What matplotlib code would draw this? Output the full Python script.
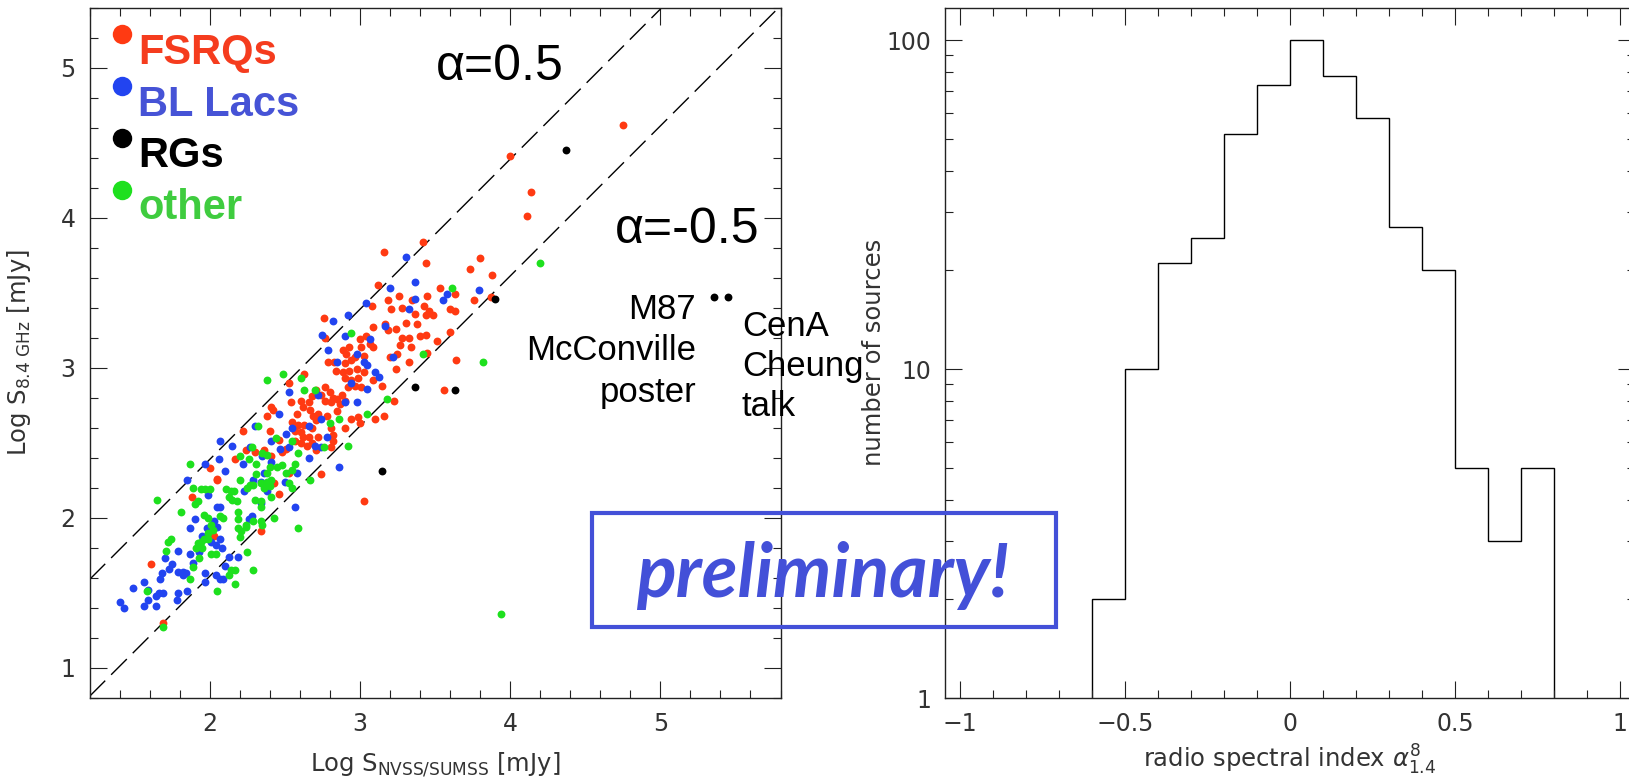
import numpy as np
import matplotlib
matplotlib.use("Agg")
import matplotlib.pyplot as plt
from matplotlib.lines import Line2D
from matplotlib.patches import Rectangle
from matplotlib.ticker import MultipleLocator, FixedLocator, FuncFormatter, LogLocator, NullFormatter

W, H = 1629, 779

# --- left panel: log flux at 8.4 GHz vs log flux at 1.4 GHz (NVSS/SUMSS) ---
fsrq_x = [2.00, 2.05, 2.43, 2.46, 1.88, 2.34, 2.03, 1.61, 1.69,
          2.84, 2.89, 2.93, 2.98, 3.03, 3.15, 3.24, 2.90, 2.94, 2.99, 2.97, 2.92, 3.01, 3.09,
          2.53, 2.63, 2.77, 2.74, 2.80, 2.82, 2.85, 2.88, 2.90, 2.87, 2.81, 2.77, 2.71, 2.68,
          2.66, 2.61, 2.62, 2.54, 2.41, 2.42, 2.38, 2.58, 2.67, 2.69, 2.72, 2.78, 2.71, 2.85,
          2.94, 2.99, 3.00, 3.10, 3.16, 3.23, 2.55, 2.59, 2.63, 2.68, 2.57, 2.61, 2.40, 2.22,
          2.46, 2.62, 2.66, 2.72, 2.82, 2.90, 2.81, 2.57, 2.61, 2.65, 2.68, 2.71, 2.51, 2.24,
          2.30, 2.36, 2.48, 2.82, 2.81, 2.05, 2.17, 2.41, 2.53, 2.74, 3.03, 3.56,
          4.14, 4.11, 3.42, 3.16, 3.44, 3.73, 3.80, 3.88, 3.12, 3.53, 3.63, 3.26, 3.35, 3.45,
          3.76, 3.87, 3.19, 3.08, 3.21, 3.28, 3.37, 3.43, 3.46, 3.44, 3.49, 3.60, 3.63, 2.76,
          3.17, 3.09, 3.19, 3.24, 3.31, 3.38, 3.28, 3.33, 3.40, 3.44, 3.51, 3.60, 3.04, 3.00,
          2.77, 3.27, 3.34, 3.45, 3.25, 3.20, 3.33, 3.07, 3.09, 3.01, 2.93, 2.89, 2.83, 2.79,
          2.91, 2.97, 3.03, 2.94, 2.90, 3.64, 4.00, 4.75]
fsrq_y = [2.33, 2.26, 2.23, 2.16, 2.14, 1.91, 1.88, 1.69, 1.30,
          2.98, 2.97, 2.98, 2.99, 2.97, 2.88, 2.99, 2.93, 2.92, 2.93, 2.88, 2.87, 2.87, 2.92,
          2.90, 2.96, 2.87, 2.82, 2.84, 2.80, 2.79, 2.82, 2.78, 2.76, 2.77, 2.78, 2.85, 2.81,
          2.77, 2.78, 2.74, 2.77, 2.74, 2.72, 2.68, 2.69, 2.72, 2.68, 2.69, 2.68, 2.65, 2.71,
          2.66, 2.67, 2.63, 2.66, 2.68, 2.78, 2.64, 2.62, 2.62, 2.60, 2.58, 2.57, 2.58, 2.58,
          2.52, 2.54, 2.54, 2.54, 2.55, 2.60, 2.60, 2.51, 2.50, 2.48, 2.50, 2.45, 2.46, 2.45,
          2.44, 2.45, 2.44, 2.51, 2.47, 2.25, 2.39, 2.41, 2.30, 2.29, 2.11, 2.85,
          4.17, 4.01, 3.84, 3.77, 3.70, 3.66, 3.73, 3.62, 3.55, 3.53, 3.49, 3.48, 3.45, 3.48,
          3.45, 3.47, 3.45, 3.41, 3.39, 3.40, 3.36, 3.41, 3.38, 3.35, 3.35, 3.39, 3.38, 3.33,
          3.29, 3.27, 3.25, 3.26, 3.30, 3.29, 3.20, 3.20, 3.21, 3.22, 3.18, 3.24, 3.21, 3.19,
          3.20, 3.15, 3.14, 3.10, 3.09, 3.07, 3.04, 3.16, 3.14, 3.14, 3.14, 3.12, 3.04, 3.04,
          3.09, 3.07, 3.08, 3.05, 3.03, 3.05, 4.41, 4.62]

bllac_x = [1.97, 1.85, 2.34, 2.38, 1.99, 2.23, 2.29, 2.34, 2.50, 2.57, 1.90, 2.05, 2.07,
           2.28, 2.26, 1.87, 1.98, 2.03, 2.05, 1.95, 2.07, 2.01, 2.04, 2.08, 1.79, 1.87, 1.93,
           2.13, 2.19, 1.70, 1.75, 1.73, 1.68, 1.79, 1.82, 1.84, 1.82, 1.89, 2.10, 1.97, 2.04,
           2.07, 1.67, 1.56, 1.49, 1.59, 1.66, 1.69, 1.79, 1.85, 1.97, 2.09, 1.64, 1.59, 1.56,
           1.64, 1.78, 1.40, 1.43,
           3.10, 3.13, 2.94, 3.05, 2.53, 2.90, 2.72, 2.46, 2.74, 2.98, 2.66, 2.55, 2.51, 2.30,
           2.78, 2.70, 2.53, 2.41, 2.15, 2.07, 2.27, 2.47, 2.66, 2.74, 2.86, 2.06, 2.10, 2.22,
           2.35, 2.41, 2.36, 2.58,
           3.31, 3.37, 3.20, 3.79, 3.37, 3.55, 3.58, 3.33, 3.04, 2.92, 2.82, 3.17, 2.90, 3.07,
           2.75, 3.22, 2.79, 2.85, 2.98, 3.03, 3.05]
bllac_y = [2.36, 2.25, 2.24, 2.18, 2.15, 2.18, 2.25, 2.10, 2.24, 2.07, 1.99, 2.07, 2.07,
           2.01, 1.99, 1.93, 1.93, 1.98, 1.94, 1.88, 1.86, 1.84, 1.82, 1.80, 1.78, 1.76, 1.77,
           1.74, 1.74, 1.73, 1.69, 1.66, 1.63, 1.64, 1.64, 1.63, 1.62, 1.70, 1.68, 1.63, 1.62,
           1.59, 1.59, 1.57, 1.53, 1.52, 1.50, 1.50, 1.50, 1.51, 1.57, 1.59, 1.48, 1.45, 1.41,
           1.41, 1.45, 1.44, 1.40,
           2.97, 2.94, 2.90, 2.86, 2.84, 2.77, 2.82, 2.69, 2.66, 2.77, 2.61, 2.60, 2.56, 2.61,
           2.54, 2.48, 2.47, 2.51, 2.48, 2.51, 2.47, 2.46, 2.40, 2.47, 2.34, 2.39, 2.31, 2.36,
           2.41, 2.37, 2.30, 2.30,
           3.74, 3.57, 3.53, 3.52, 3.46, 3.45, 3.49, 3.39, 3.43, 3.35, 3.31, 3.28, 3.21, 3.19,
           3.22, 3.07, 3.12, 3.04, 3.09, 3.04, 3.02]

rg_x = [3.15, 3.37, 3.90, 3.63, 4.37, 5.36, 5.45]
rg_y = [2.31, 2.87, 3.46, 2.85, 4.45, 3.47, 3.47]

other_x = [1.87, 2.20, 2.29, 2.34, 2.38, 2.41, 2.36, 2.40, 1.89, 1.94, 1.97, 2.00, 2.11,
           2.14, 2.16, 2.13, 2.15, 2.18, 2.25, 2.27, 2.30, 2.34, 2.34, 2.41, 2.53, 2.55, 2.59,
           2.67, 1.65, 1.92, 1.90, 1.81, 2.07, 2.09, 1.96, 1.99, 2.19, 2.19, 2.29, 2.24, 2.34,
           2.43, 2.01, 2.02, 1.99, 2.19, 2.24, 2.21, 2.35, 2.20, 1.72, 1.74, 1.92, 1.94, 1.96,
           1.99, 1.91, 1.95, 1.71, 2.01, 2.04, 2.25, 1.93, 1.89, 2.14, 2.17, 2.13, 2.29, 1.87,
           1.58, 2.17, 2.05, 1.69,
           2.61, 2.49, 2.38, 2.63, 2.70, 2.86, 3.05, 3.18, 2.32, 2.92, 2.80, 2.55, 2.44, 2.28,
           2.35, 2.38, 2.59, 2.76, 2.20, 2.26, 2.31, 2.40, 2.38, 2.31, 2.45, 2.48, 2.51, 2.55,
           2.57,
           4.20, 3.61, 2.94, 3.42, 3.82, 3.94]
other_y = [2.36, 2.25, 2.22, 2.23, 2.24, 2.25, 2.20, 2.21, 2.20, 2.19, 2.19, 2.19, 2.19,
           2.18, 2.18, 2.14, 2.12, 2.11, 2.20, 2.22, 2.12, 2.11, 2.07, 2.14, 2.23, 2.20, 1.93,
           2.25, 2.12, 2.11, 2.09, 2.04, 2.01, 2.00, 2.02, 2.00, 2.04, 1.99, 1.98, 1.95, 1.98,
           2.00, 1.95, 1.92, 1.90, 1.93, 1.94, 1.91, 1.95, 1.87, 1.84, 1.86, 1.83, 1.84, 1.86,
           1.86, 1.80, 1.80, 1.78, 1.76, 1.76, 1.77, 1.73, 1.67, 1.65, 1.65, 1.62, 1.65, 1.59,
           1.51, 1.56, 1.51, 1.27,
           2.93, 2.96, 2.92, 2.85, 2.85, 2.66, 2.69, 2.79, 2.61, 2.48, 2.63, 2.51, 2.53, 2.47,
           2.43, 2.42, 2.43, 2.47, 2.41, 2.39, 2.36, 2.34, 2.30, 2.29, 2.34, 2.35, 2.30, 2.32,
           2.36,
           3.70, 3.53, 3.23, 3.09, 3.04, 1.36]

class_names = ["FSRQs", "BL Lacs", "RGs", "other"]
dot_colors = ["#ff3a12", "#2244f0", "#000000", "#1ee01e"]
name_colors = ["#f53c1e", "#4653d6", "#000000", "#3fcc3f"]

alpha_values = [0.5, -0.5]
freq_ratio = 8.4 / 1.4

# --- right panel: histogram of the spectral index ---
hist_edges = [-0.6, -0.5, -0.4, -0.3, -0.2, -0.1, 0.0, 0.1, 0.2, 0.3, 0.4, 0.5, 0.6, 0.7, 0.8]
hist_counts = [2, 10, 21, 25, 52, 73, 100, 78, 58, 27, 20, 5, 3, 5]

plt.rcParams["font.family"] = ["DejaVu Sans"]
plt.rcParams["mathtext.fontset"] = "dejavusans"

fig = plt.figure(figsize=(W / 100, H / 100), dpi=100)


def fx(px):
    return px / W


def fy(py):
    return 1 - py / H


def style_axes(ax):
    ax.tick_params(which="both", direction="in", top=True, right=True,
                   labelsize=17, labelcolor="#333333", pad=10, width=0.8, color="#222222")
    ax.tick_params(which="major", length=12.5)
    ax.tick_params(which="minor", length=6)
    for sp in ax.spines.values():
        sp.set_linewidth(1.0)
        sp.set_color("#222222")


ax1 = fig.add_axes([fx(89.5), fy(698), 691 / W, 690.5 / H])
ax1.scatter(fsrq_x, fsrq_y, s=32, color=dot_colors[0], lw=0, zorder=3)
ax1.scatter(bllac_x, bllac_y, s=32, color=dot_colors[1], lw=0, zorder=3)
ax1.scatter(other_x, other_y, s=32, color=dot_colors[3], lw=0, zorder=3)
ax1.scatter(rg_x, rg_y, s=32, color=dot_colors[2], lw=0, zorder=3)

xs = np.array([1.2, 5.8])
for a in alpha_values:
    ax1.plot(xs, xs + a * np.log10(freq_ratio), color="black", lw=1.0, dashes=(16, 6))

ax1.set_xlim(1.2, 5.8)
ax1.set_ylim(0.8, 5.4)
ax1.xaxis.set_major_locator(MultipleLocator(1))
ax1.xaxis.set_minor_locator(MultipleLocator(0.2))
ax1.yaxis.set_major_locator(MultipleLocator(1))
ax1.yaxis.set_minor_locator(MultipleLocator(0.2))
ax1.xaxis.set_major_formatter(FuncFormatter(lambda v, p: "%d" % round(v)))
ax1.yaxis.set_major_formatter(FuncFormatter(lambda v, p: "%d" % round(v)))
style_axes(ax1)
ax1.set_xlabel(r"Log S$_{\rm NVSS/SUMSS}$ [mJy]", fontsize=17.5, color="#333333", labelpad=11)
ax1.set_ylabel(r"Log S$_{\rm 8.4\ GHz}$ [mJy]", fontsize=17.5, color="#333333", labelpad=20)

ax2 = fig.add_axes([fx(945), fy(698), 690 / W, 690.5 / H])
ax2.stairs(hist_counts, hist_edges, baseline=1, color="black", lw=1.0)
ax2.set_yscale("log")
ax2.set_xlim(-1.045, 1.045)
ax2.set_ylim(1, 10 ** 2.1)
ax2.xaxis.set_major_locator(MultipleLocator(0.5))
ax2.xaxis.set_minor_locator(MultipleLocator(0.1))


def signed(v, p):
    if abs(v) < 1e-9:
        v = 0
    return ("%g" % v).replace("-", "\u2212")


ax2.xaxis.set_major_formatter(FuncFormatter(signed))
ax2.yaxis.set_major_locator(FixedLocator([1, 10, 100]))
ax2.yaxis.set_major_formatter(FuncFormatter(lambda v, p: "%g" % v))
ax2.yaxis.set_minor_locator(LogLocator(base=10, subs=np.arange(2, 10)))
ax2.yaxis.set_minor_formatter(NullFormatter())
style_axes(ax2)
ax2.set_xlabel(r"radio spectral index $\alpha^{8}_{1.4}$", fontsize=17.5, color="#333333", labelpad=5)
ax2.set_ylabel("number of sources", fontsize=17.5, color="#333333", labelpad=0)

# class legend written by hand, as on the slide
for i, (name, dc, tc) in enumerate(zip(class_names, dot_colors, name_colors)):
    fig.add_artist(Line2D([fx(122)], [fy(34 + 52 * i)], marker="o", ms=14, color=dc,
                          mec="none", transform=fig.transFigure))
    fig.text(fx(138), fy(64 + 51.7 * i), name, color=tc, fontsize=30, fontweight="bold",
             family="Liberation Sans", va="baseline", ha="left")

fig.text(fx(436), fy(80), "\u03b1=%g" % alpha_values[0], fontsize=36,
         family="Liberation Sans", va="baseline")
fig.text(fx(615), fy(243), "\u03b1=%g" % alpha_values[1], fontsize=36,
         family="Liberation Sans", va="baseline")

for j, line in enumerate(["M87", "McConville", "poster"]):
    fig.text(fx(696), fy(319 + 41.5 * j), line, fontsize=25, family="Liberation Sans",
             ha="right", va="baseline")
for j, line in enumerate(["CenA", "Cheung", "talk"]):
    fig.text(fx(742), fy(335.5 + 40.5 * j), line, fontsize=25, family="Liberation Sans",
             ha="left", va="baseline")

fig.add_artist(Rectangle((fx(591.5), fy(627)), (1056 - 591.5) / W, (627 - 513) / H,
                         transform=fig.transFigure, fill=False, ec="#4350d8", lw=3))
fig.text(fx(823), fy(597), "preliminary!", fontsize=53, fontweight="bold", fontstyle="italic",
         family="Lato", color="#4350d8", ha="center", va="baseline")

fig.savefig("out.png", dpi=100)
